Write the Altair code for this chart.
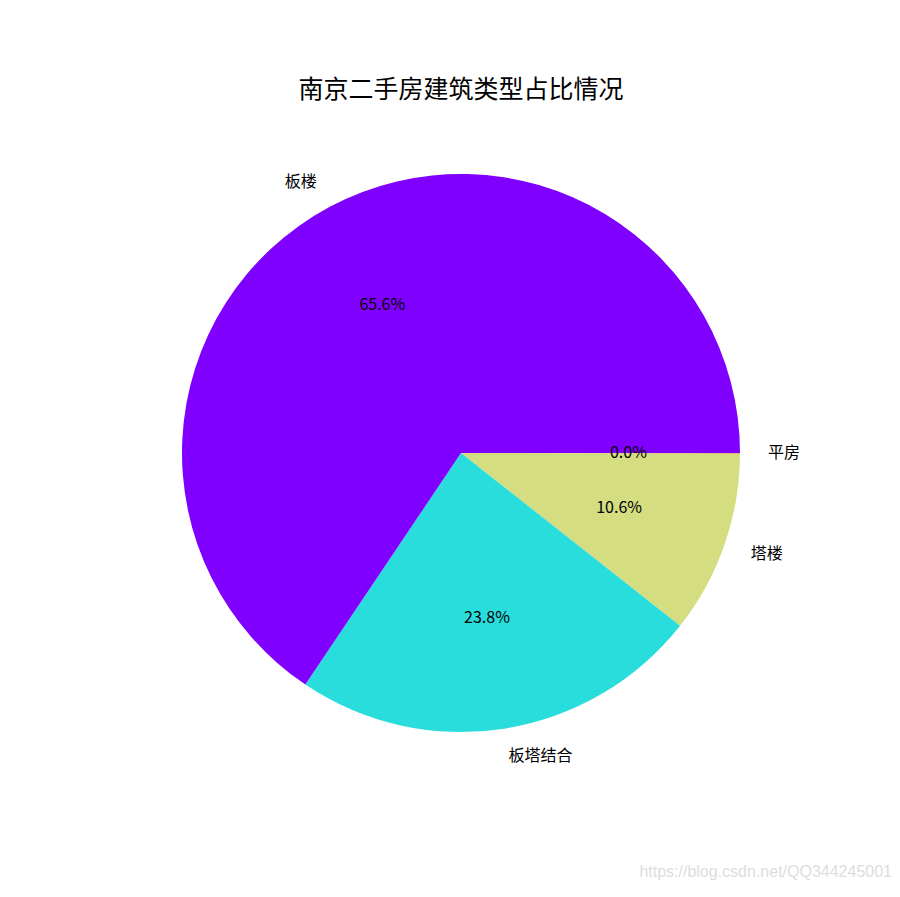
import math
import altair as alt
import pandas as pd

# ---- data ----
title_text = ["南京二手房建筑类型占比情况"]
categories = ["平房", "塔楼", "板塔结合", "板楼"]          # clockwise from 3 o'clock
shares = [0.03, 10.6, 23.8, 65.6]                          # percent
colors = ["#ff0000", "#d4dd80", "#2adddd", "#8000ff"]      # matplotlib 'rainbow'
watermark = ["https://blog.csdn.net/QQ344245001"]

TOTAL = sum(shares)
CX, CY = 453, 445          # pie centre in chart coordinates
R = 279
FONT = "Noto Sans CJK SC"

df = pd.DataFrame({"category": categories, "share": shares,
                   "idx": list(range(len(categories)))})

theta_scale = alt.Scale(domain=[0, TOTAL], range=[math.pi / 2, math.pi / 2 + 2 * math.pi])
color_scale = alt.Scale(domain=categories, range=colors)

base = (
    alt.Chart(df)
    .transform_stack(stack="share", as_=["s0", "s1"], groupby=[],
                     sort=[alt.SortField("idx", order="ascending")])
    .transform_calculate(
        mid="(datum.s0 + datum.s1) / 2",
        pct=f"format(100 * datum.share / {TOTAL}, '.1f') + '%'",
    )
    .transform_calculate(
        side=f"sin(PI / 2 + 2 * PI * datum.mid / {TOTAL}) >= 0 ? 'L' : 'R'"
    )
)

arcs = base.mark_arc(outerRadius=R).encode(
    theta=alt.Theta("s0:Q", scale=theta_scale, stack=False),
    theta2="s1:Q",
    color=alt.Color("category:N", scale=color_scale, legend=None),
    x=alt.value(CX),
    y=alt.value(CY),
)

def names(side, align):
    return base.transform_filter(f"datum.side == '{side}'").mark_text(
        radius=R * 1.1, align=align, baseline="middle", fontSize=16,
        font=FONT, color="black"
    ).encode(
        theta=alt.Theta("mid:Q", scale=theta_scale, stack=False),
        text="category:N",
        x=alt.value(CX),
        y=alt.value(CY),
    )

pcts = base.mark_text(
    radius=R * 0.6, align="center", baseline="middle", fontSize=16,
    font=FONT, color="black"
).encode(
    theta=alt.Theta("mid:Q", scale=theta_scale, stack=False),
    text="pct:N",
    x=alt.value(CX),
    y=alt.value(CY),
)

title = alt.Chart(pd.DataFrame({"t": title_text})).mark_text(
    fontSize=25, font=FONT, align="center", baseline="middle", color="black"
).encode(text="t:N", x=alt.value(453), y=alt.value(82))

wm = alt.Chart(pd.DataFrame({"t": watermark})).mark_text(
    fontSize=16, font="Liberation Sans", align="right", baseline="middle",
    color="#dddddd"
).encode(text="t:N", x=alt.value(884), y=alt.value(864))

chart = alt.layer(arcs, names("L", "left"), names("R", "right"), pcts, title, wm).properties(
    width=884, height=876, padding=0,
    autosize=alt.AutoSizeParams(type="none"),
).configure_view(strokeWidth=0)

chart.save("out.html", embed_options={"renderer": "svg", "actions": False})
